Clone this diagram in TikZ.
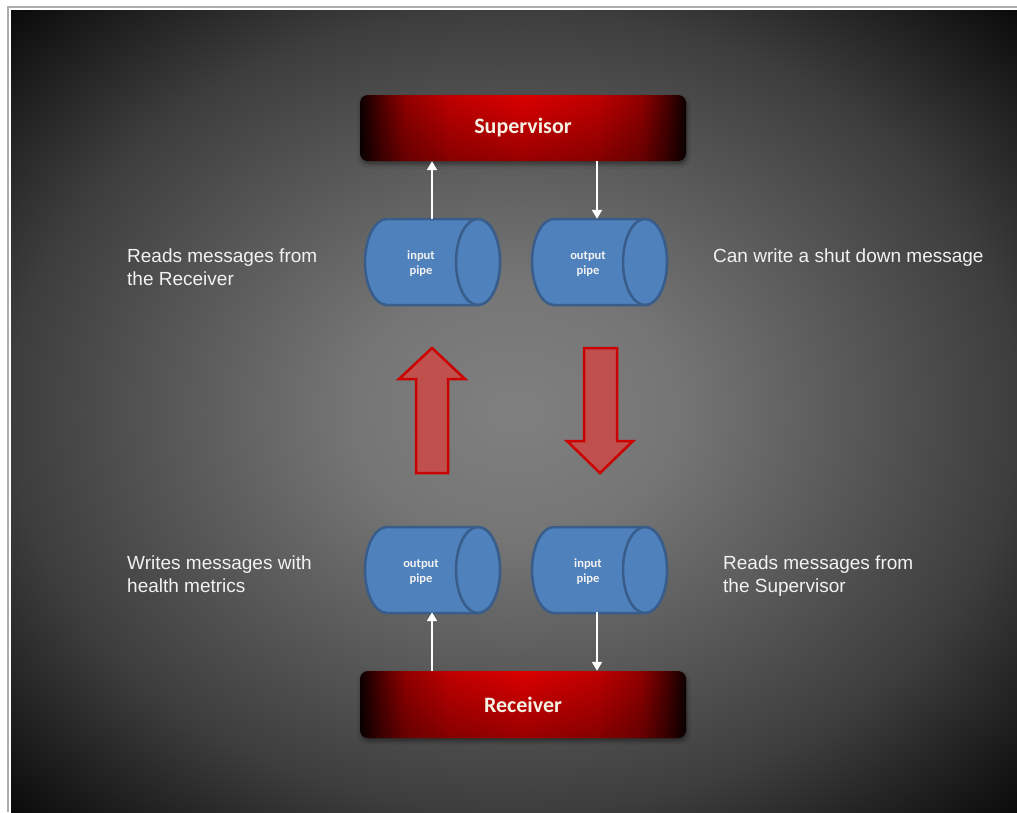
\documentclass[tikz,border=0pt]{standalone}
\usepackage{fontspec}
\setmainfont{Liberation Sans}
\newfontfamily\calibrifont{Carlito}
\usetikzlibrary{arrows.meta,shadows.blur,fadings}
\definecolor{pipefill}{HTML}{4F81BD}
\definecolor{pipeline}{HTML}{385D8A}
\definecolor{bigfill}{HTML}{C0504D}
\definecolor{bigline}{HTML}{CC0000}
\definecolor{txt}{HTML}{F2F2F2}
\definecolor{boxtxt}{HTML}{F4F1E4}
\definecolor{bgA}{gray}{0.50}
\definecolor{bgB}{gray}{0.46}
\definecolor{bgC}{gray}{0.24}
\definecolor{bgD}{gray}{0.04}
\definecolor{rdA}{rgb}{0.05,0,0}
\definecolor{rdB}{rgb}{0.30,0,0}
\definecolor{rdC}{rgb}{0.58,0,0}
\definecolor{rdD}{rgb}{0.76,0,0}
\definecolor{rdE}{rgb}{0.86,0,0}
\pgfdeclareradialshading{bgshade}{\pgfpointorigin}{color(0bp)=(bgA); color(8bp)=(bgB); color(25bp)=(bgC); color(35.5bp)=(bgD); color(50bp)=(bgD)}
\pgfdeclarehorizontalshading{redbar}{100bp}{color(0bp)=(rdA); color(25bp)=(rdA); color(28bp)=(rdB); color(32bp)=(rdC); color(39bp)=(rdD); color(50bp)=(rdE); color(61bp)=(rdD); color(68bp)=(rdC); color(72bp)=(rdB); color(75bp)=(rdA); color(100bp)=(rdA)}
\newcommand\pipeshape[2]{%
  \filldraw[pipe] (#1+22,#2) arc[start angle=270,end angle=90,x radius=22,y radius=43]
    -- (#1+113,#2+86) arc[start angle=90,end angle=-90,x radius=22,y radius=43] -- cycle;
  \draw[pipe] (#1+113,#2+43) ellipse[x radius=22,y radius=43];}
\tikzset{
  pipe/.style={fill=pipefill, draw=pipeline, line width=2.5pt},
  pipebox/.style={minimum width=135pt, minimum height=86pt, inner sep=0pt},
  pipetext/.style={align=center, text=txt, inner sep=0pt, font=\calibrifont\bfseries\fontsize{12.5}{15}\selectfont},
  bar/.style={minimum width=326pt, minimum height=66pt, rounded corners=8pt, shade, shading=redbar,
    text=boxtxt, font=\calibrifont\bfseries\fontsize{22}{26}\selectfont,
    blur shadow={shadow xshift=1pt, shadow yshift=-3pt, shadow blur radius=4pt, shadow opacity=45},
    postaction={fill=black, fill opacity=0.3, path fading=north}},
  lbl/.style={align=left, text=txt, inner sep=0pt, anchor=north west, font=\fontsize{19}{23}\selectfont},
  warrow/.style={draw=white, line width=2pt, -{Triangle[length=9pt,width=10pt]}},
  bigarrow/.style={fill=bigfill, draw=bigline, line width=2.5pt}
}
\begin{document}
\begin{tikzpicture}[x=1pt,y=-1pt]
\useasboundingbox (0,0) rectangle (1017,812);
\fill[white] (0,0) rectangle (1017,812);
\draw[gray!65, line width=1.3pt] (8,812) -- (8,7) -- (1017,7);
\shade[shading=bgshade] (11,10) rectangle (1017,812);
% pipes
\pipeshape{365}{219}
\pipeshape{532}{219}
\pipeshape{365}{527}
\pipeshape{532}{527}
\node[pipebox] (p1) at (432,262) {};
\node[pipebox] (p2) at (597,262) {};
\node[pipebox] (p3) at (432,569) {};
\node[pipebox] (p4) at (597,569) {};
\node[pipetext] (p1t) at (421,264) {input\\pipe};
\node[pipetext] (p2t) at (588,264) {output\\pipe};
\node[pipetext] (p3t) at (421,572) {output\\pipe};
\node[pipetext] (p4t) at (588,572) {input\\pipe};
% boxes
\node[bar] (sup) at (523,128) {Supervisor};
\node[bar, minimum height=67pt] (rec) at (523,704.5) {Receiver};
% white arrows
\draw[warrow] (p1.north) -- (p1.north |- sup.south);
\draw[warrow] (p2.north |- sup.south) -- (p2.north);
\draw[warrow] (p3.south |- rec.north) -- (p3.south);
\draw[warrow] (p4.south) -- (p4.south |- rec.north);
% big red arrows
\draw[bigarrow] (416,473) -- (416,379) -- (399,379) -- (432,348) -- (465,379) -- (448,379) -- (448,473) -- cycle;
\draw[bigarrow] (584,348) -- (617,348) -- (617,441) -- (633,441) -- (600,473) -- (567,441) -- (584,441) -- cycle;
% labels
\node[lbl] (l1) at (127,249) {Reads messages from\\the Receiver};
\node[lbl] (l2) at (713,249) {Can write a shut down message};
\node[lbl] (l3) at (127,556) {Writes messages with\\health metrics};
\node[lbl] (l4) at (723,556) {Reads messages from\\the Supervisor};
\end{tikzpicture}
\end{document}
